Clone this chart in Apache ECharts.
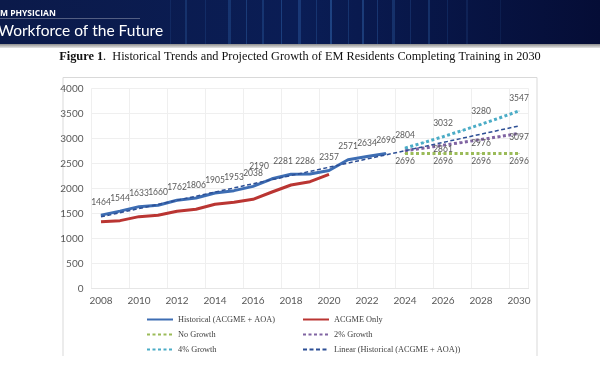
<!DOCTYPE html>
<html>
<head>
<meta charset="utf-8">
<script src="https://cdn.jsdelivr.net/npm/echarts@6/dist/echarts.min.js"></script>
<style>
html,body{margin:0;padding:0;background:#fff;}
#chart{width:600px;height:371px;}
</style>
</head>
<body>
<div id="chart"></div>
<script>
// ---- data ----
var years = ['2008','2009','2010','2011','2012','2013','2014','2015','2016','2017','2018','2019','2020','2021','2022','2023','2024','2025','2026','2027','2028','2029','2030'];
var historical = [1464,1544,1633,1660,1762,1806,1905,1953,2038,2190,2281,2286,2357,2571,2634,2696];
var acgmeOnly = [1333,1353,1433,1460,1540,1580,1680,1720,1780,1926,2066,2133,2280];
var projYears = ['2024','2025','2026','2027','2028','2029','2030'];
var noGrowth = [2696,2696,2696,2696,2696,2696,2696];
var growth2 = [2750,2805,2861,2918,2976,3036,3097];
var growth4 = [2804,2916,3032,3154,3280,3411,3547];
var trendYears = ['2008','2030'];
var trendValues = [1429,3248];
var yTicks = [0,500,1000,1500,2000,2500,3000,3500,4000];
var labeledProj = ['2024','2026','2028','2030'];
var labeled2 = ['2026','2028','2030'];

var names = ['Historical (ACGME + AOA)','ACGME Only','No Growth','2% Growth','4% Growth','Linear (Historical (ACGME + AOA))'];

// ---- build ----
var labelColor = '#595959';
var histDx = {9:-13,10:-8,11:-5};
function projData(vals, labeled){
  return vals.map(function(v,i){
    return {value:[projYears[i], v], label:{show: labeled.indexOf(projYears[i]) >= 0}};
  });
}
var trendData = trendYears.map(function(y,i){ return [y, trendValues[i]]; });

var lblBase = {color: labelColor, fontSize: 8.5, fontFamily: 'Lato'};

var streaks = [];
var streakSpec = [[185,2,0.2],[205,1,0.15],[228,3,0.22],[246,1,0.28],[262,2,0.22],[281,1,0.3],[298,3,0.25],[316,1,0.22],[330,2,0.35],[348,1,0.22],[362,2,0.3],[377,1,0.25],[392,3,0.22],[410,1,0.18],[428,2,0.22],[447,1,0.15],[466,2,0.12],[170,1,0.12],[500,1,0.1]];
streakSpec.forEach(function(s){
  streaks.push({type:'rect', shape:{x:s[0], y:0, width:s[1], height:44}, style:{fill:'rgba(70,140,220,'+s[2]+')'}, silent:true});
});

var graphics = [
  {type:'rect', shape:{x:0,y:0,width:600,height:44}, style:{fill:new echarts.graphic.LinearGradient(0,0,1,0,[{offset:0,color:'#0b1a4a'},{offset:0.5,color:'#0a1d55'},{offset:1,color:'#050d36'}])}, silent:true}
].concat(streaks).concat([
  {type:'rect', shape:{x:0,y:44,width:600,height:4}, style:{fill:new echarts.graphic.LinearGradient(0,0,0,1,[{offset:0,color:'#8c8c8c'},{offset:1,color:'#e6e6e6'}])}, silent:true},
  {type:'text', left:0, top:9, style:{text:'M PHYSICIAN', fill:'#ffffff', font:'bold 8.5px "Open Sans"'}, silent:true},
  {type:'rect', shape:{x:0,y:18,width:140,height:0.8}, style:{fill:'rgba(255,255,255,0.4)'}, silent:true},
  {type:'text', left:-2, top:23, style:{text:'Workforce of the Future', fill:'#ffffff', font:'15.5px Lato'}, silent:true},
  {type:'text', left:'center', top:51, style:{
    text:'{b|Figure 1}.  Historical Trends and Projected Growth of EM Residents Completing Training in 2030',
    fill:'#111', font:'12.3px "Liberation Serif"',
    rich:{b:{fontWeight:'bold', fontFamily:'Liberation Serif', fontSize:12.3, fill:'#111'}}
  }, silent:true},
  {type:'polyline', shape:{points:[[63,356],[63,77.5],[537,77.5],[537,356]]}, style:{stroke:'#d9d9d9', lineWidth:1, fill:null}, silent:true}
]);

var legendText = {fontFamily:'Liberation Serif', fontSize:8.3, color:'#404040'};
function leg(name, left, top){
  return {data:[name], left:left, top:top, itemWidth:26, itemHeight:8, textStyle:legendText, padding:0, selectedMode:false, itemStyle:{opacity:0}};
}

var option = {
  animation:false,
  backgroundColor:'#ffffff',
  graphic: graphics,
  legend:[
    leg(names[0],146,315.5),
    leg(names[1],302,315.5),
    leg(names[2],146,330.5),
    leg(names[3],302,330.5),
    leg(names[4],146,345.5),
    leg(names[5],302,345.5)
  ],
  grid:{left:91.5, right:71.5, top:88.3, bottom:82.7, containLabel:false},
  xAxis:{
    type:'category', data:years, boundaryGap:true,
    axisLine:{show:true, lineStyle:{color:'#e6e6e6'}},
    axisTick:{show:false},
    axisLabel:{interval:1, color:labelColor, fontSize:10, fontFamily:'Lato', margin:7},
    splitLine:{show:true, interval:1, lineStyle:{color:'#efefef'}}
  },
  yAxis:{
    type:'value', min:yTicks[0], max:yTicks[yTicks.length-1], interval:yTicks[1]-yTicks[0],
    axisLine:{show:false}, axisTick:{show:false},
    axisLabel:{color:labelColor, fontSize:10, fontFamily:'Lato', margin:8, formatter:function(v){return String(v);}},
    splitLine:{lineStyle:{color:'#efefef'}}
  },
  series:[
    {name:names[0], type:'line', data:historical, symbol:'circle', symbolSize:1, showSymbol:true, z:3,
     lineStyle:{color:'#3D6DB3', width:3}, itemStyle:{color:'#3D6DB3'},
     labelLayout:function(p){ return {dx: histDx[p.dataIndex] || 0, hideOverlap:false}; },
     label:Object.assign({show:true, position:'top', distance:8}, lblBase)},
    {name:names[1], type:'line', data:acgmeOnly, symbol:'none', z:3,
     lineStyle:{color:'#BA3532', width:3}, itemStyle:{color:'#BA3532'}},
    {name:names[2], type:'line', data:projData(noGrowth, labeledProj), symbol:'circle', symbolSize:1, showSymbol:true, z:3,
     lineStyle:{color:'#9BBB59', width:3, type:[3,2.5]}, itemStyle:{color:'#9BBB59'},
     label:Object.assign({position:'bottom', distance:3}, lblBase)},
    {name:names[3], type:'line', data:projData(growth2, labeled2), symbol:'circle', symbolSize:1, showSymbol:true, z:3,
     lineStyle:{color:'#8064A2', width:3, type:[3,2.5]}, itemStyle:{color:'#8064A2'},
     label:Object.assign({position:'inside', offset:[0,4]}, lblBase)},
    {name:names[4], type:'line', data:projData(growth4, labeledProj), symbol:'circle', symbolSize:1, showSymbol:true, z:3,
     lineStyle:{color:'#4BACC6', width:3, type:[3,2.5]}, itemStyle:{color:'#4BACC6'},
     label:Object.assign({position:'top', distance:8}, lblBase)},
    {name:names[5], type:'line', data:trendData, symbol:'none', z:4,
     lineStyle:{color:'#2D4F95', width:1.5, type:[4,2.5]}, itemStyle:{color:'#2D4F95'}}
  ]
};

var chart = echarts.init(document.getElementById('chart'), null, {renderer:'canvas'});
chart.setOption(option);
</script>
</body>
</html>
